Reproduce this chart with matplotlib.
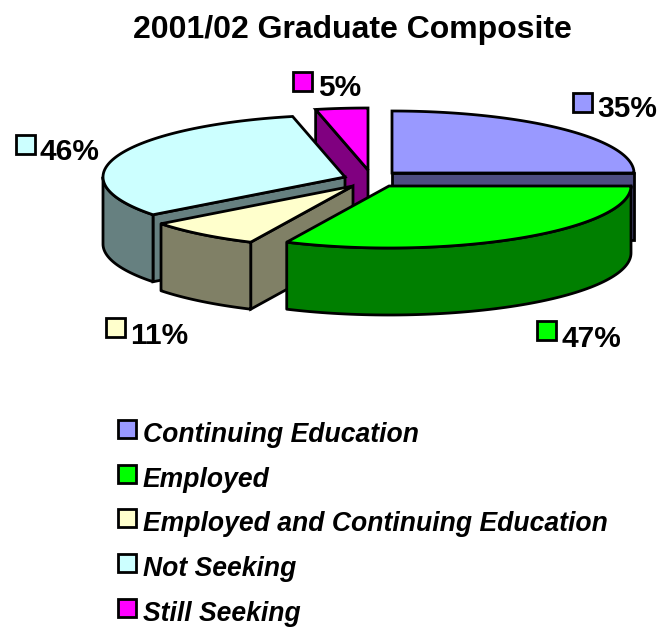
import numpy as np
from matplotlib import pyplot as plt
from matplotlib.patches import Polygon, Rectangle

plt.rcParams['font.family'] = ['Liberation Sans', 'DejaVu Sans']

categories = ['Continuing Education', 'Employed', 'Employed and Continuing Education', 'Not Seeking', 'Still Seeking']
values = [35, 47, 11, 46, 5]
colors = ['#9999ff', '#00ff00', '#ffffcc', '#ccffff', '#ff00ff']
dark_colors = ['#4d4d80', '#007f00', '#808066', '#668080', '#800080']

# where each exploded slice has its apex (pixels)
centers = [(392, 173), (389, 186), (353, 186), (345, 177), (368, 170)]
# label swatch top left and text position
label_pos = [(573, 93, 597, 109), (537, 321, 561, 339), (106, 318, 130, 336), (16, 135, 40, 152), (293, 72, 318, 88)]

RX = 242
RY = 62
DEPTH = 67
LW = 2.0

fig = plt.figure(figsize=(6.6, 6.27), dpi=100)
ax = fig.add_axes([0, 0, 1, 1])
ax.set_xlim(0, 660)
ax.set_ylim(627, 0)
ax.axis('off')


def rim(c, a, b):
    t = np.radians(np.linspace(a, b, 80))
    return np.column_stack([c[0] + RX * np.sin(t), c[1] - RY * np.cos(t)])


def down(pts):
    return pts + np.array([0, DEPTH])


def edge_face(c, ang, color, z):
    e = rim(c, ang, ang)[0]
    p = np.array([c, e, e + [0, DEPTH], np.array(c) + [0, DEPTH]])
    ax.add_patch(Polygon(p, fc=color, ec='black', lw=LW, joinstyle='miter', zorder=z))


# start angles clockwise from 12 o'clock
total = sum(values)
ends = np.cumsum(values) * 360 / total
# the first cut sits flat in the picture
ends[np.abs(ends - 90) < 3] = 90
starts = np.concatenate([[0], ends[:-1]])

# back to front
order = [4, 3, 2, 0, 1]
for z, i in enumerate(order):
    c = centers[i]
    a, b = starts[i], ends[i]
    z = z * 10 + 2
    if 0 < b < 180:
        edge_face(c, b, dark_colors[i], z)
    if 180 < a < 360:
        edge_face(c, a, dark_colors[i], z)
    lo = max(a, 90)
    hi = min(b, 270)
    if lo < hi:
        top = rim(c, lo, hi)
        ax.add_patch(Polygon(np.vstack([top, down(top)[::-1]]), fc=dark_colors[i], ec='black',
                             lw=LW, joinstyle='round', zorder=z + 1))
    ax.add_patch(Polygon(np.vstack([[c], rim(c, a, b)]), fc=colors[i], ec='black', lw=LW,
                         joinstyle='miter', zorder=z + 2))

ax.text(352, 30, '2001/02 Graduate Composite', fontsize=23, fontweight='bold', ha='center', va='center')

for i in range(len(values)):
    sx, sy, tx, ty = label_pos[i]
    ax.add_patch(Rectangle((sx, sy), 19, 19, fc=colors[i], ec='black', lw=LW, zorder=60))
    ax.text(tx, ty, '%d%%' % values[i], fontsize=21.5, fontweight='bold', ha='left', va='center')

for i, name in enumerate(categories):
    y = 420 + i * 44.7
    ax.add_patch(Rectangle((118, y), 18, 18, fc=colors[i], ec='black', lw=LW, zorder=60))
    ax.text(143, y + 15, name, fontsize=19.1, fontweight='bold', fontstyle='italic', ha='left', va='center')

plt.savefig('out.png', dpi=100)
